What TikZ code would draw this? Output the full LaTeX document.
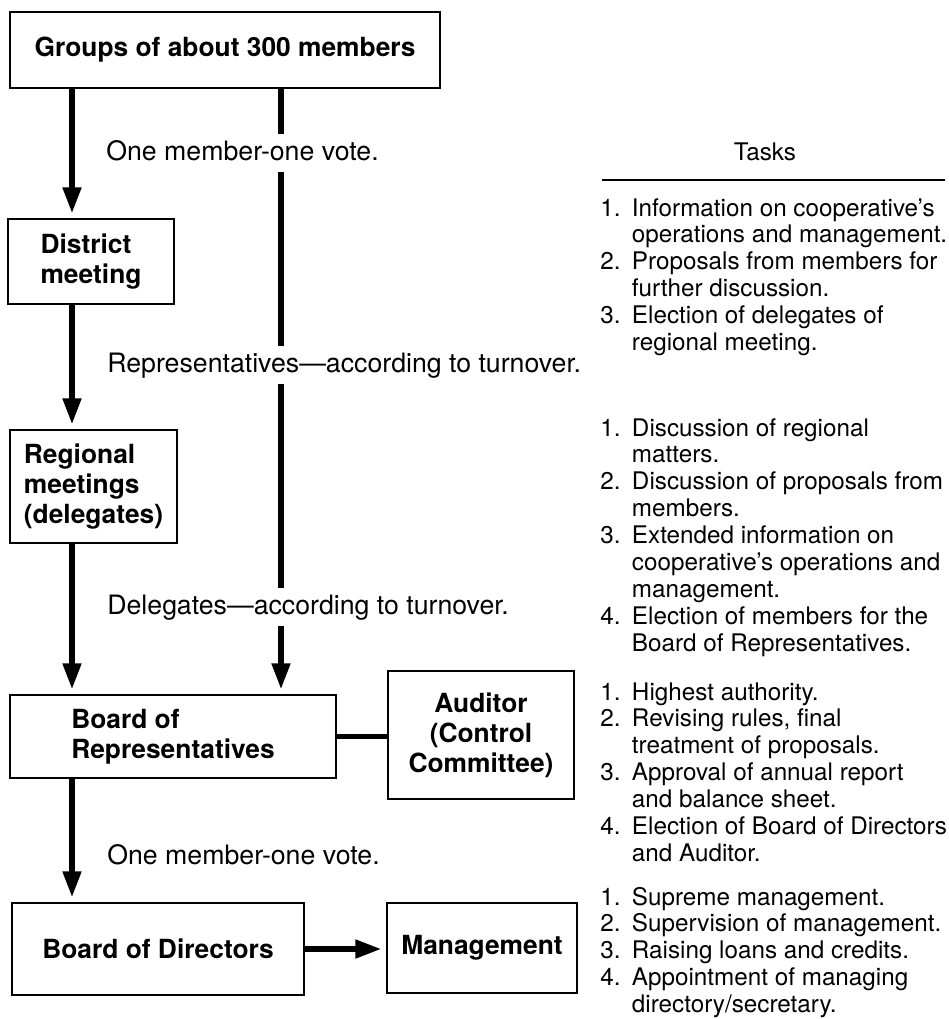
\documentclass[tikz,border=0pt]{standalone}
\usepackage{fontspec}
\setmainfont{TeX Gyre Heros}
\usetikzlibrary{arrows.meta}

\begin{document}
\begin{tikzpicture}[x=0.02cm, y=-0.02cm,
  box/.style={draw, line width=1.1pt, inner sep=0pt, align=left, font=\bfseries\fontsize{15}{17}\selectfont},
  flow/.style={line width=3.4pt, shorten >=2.5pt, -{Triangle[length=15pt,width=10pt]}},
  link/.style={line width=3.4pt},
  lbl/.style={anchor=west, inner xsep=0pt, inner ysep=3.8pt, text height=11pt, text depth=3pt, font=\fontsize{15.2}{17}\selectfont},
  task/.style={anchor=base west, inner sep=0pt, font=\fontsize{13.8}{15.3}\selectfont}]
\useasboundingbox (0,0) rectangle (949,1019);
\coordinate (lcol) at (72,0);
\coordinate (rcol) at (281,0);

\node[box, minimum width=8.6cm, minimum height=1.52cm] (groups) at (225,50) {Groups of about 300 members};
\node[box, minimum width=3.32cm, minimum height=1.7cm] (district) at (91,261.5) {District\\meeting};
\node[box, minimum width=3.34cm, minimum height=2.26cm] (regional) at (93.5,486.5) {Regional\\meetings\\(delegates)};
\node[box, minimum width=6.52cm, minimum height=1.66cm] (board) at (173,736.5) {Board of\\Representatives};
\node[box, minimum width=3.72cm, minimum height=2.56cm, align=center] (auditor) at (481,735) {Auditor\\(Control\\Committee)};
\node[box, minimum width=5.84cm, minimum height=1.84cm] (directors) at (158,949) {Board of Directors};
\node[box, minimum width=3.8cm, minimum height=1.8cm] (management) at (482,948) {Management};

\node[lbl] (vote) at (106,153) {One member-one vote.};
\node[lbl] (reps) at (107,365) {Representatives---according to turnover.};
\node[lbl] (delegates) at (107,607) {Delegates---according to turnover.};
\node[lbl] (vote2) at (107,857) {One member-one vote.};

\node[font=\fontsize{13.8}{15.3}\selectfont] (tasks) at (765,152) {Tasks};
\draw[line width=0.9pt] (602,180) -- (945,180);

\node[task] (taskA) at (600,216) {\begin{tabular}[t]{@{}l@{\hspace{6.5pt}}l@{}}
1. & Information on cooperative's\\
 & operations and management.\\
2. & Proposals from members for\\
 & further discussion.\\
3. & Election of delegates of\\
 & regional meeting.
\end{tabular}};
\node[task] (taskB) at (600,436) {\begin{tabular}[t]{@{}l@{\hspace{6.5pt}}l@{}}
1. & Discussion of regional\\
 & matters.\\
2. & Discussion of proposals from\\
 & members.\\
3. & Extended information on\\
 & cooperative's operations and\\
 & management.\\
4. & Election of members for the\\
 & Board of Representatives.
\end{tabular}};
\node[task] (taskC) at (600,700) {\begin{tabular}[t]{@{}l@{\hspace{6.5pt}}l@{}}
1. & Highest authority.\\
2. & Revising rules, final\\
 & treatment of proposals.\\
3. & Approval of annual report\\
 & and balance sheet.\\
4. & Election of Board of Directors\\
 & and Auditor.
\end{tabular}};
\node[task] (taskD) at (600,905) {\begin{tabular}[t]{@{}l@{\hspace{6.5pt}}l@{}}
1. & Supreme management.\\
2. & Supervision of management.\\
3. & Raising loans and credits.\\
4. & Appointment of managing\\
 & directory/secretary.
\end{tabular}};

\draw[flow] (groups.south -| lcol) -- (district.north -| lcol);
\draw[flow] (district.south -| lcol) -- (regional.north -| lcol);
\draw[flow] (regional.south -| lcol) -- (board.north -| lcol);
\draw[flow] (board.south -| lcol) -- (directors.north -| lcol);
\draw[link] (groups.south -| rcol) -- (vote.north -| rcol);
\draw[link] (vote.south -| rcol) -- (reps.north -| rcol);
\draw[link] (reps.south -| rcol) -- (delegates.north -| rcol);
\draw[flow] (delegates.south -| rcol) -- (board.north -| rcol);
\draw[link] (board.east) -- (board.east -| auditor.west);
\draw[flow] (directors.east) -- (directors.east -| management.west);
\end{tikzpicture}
\end{document}
